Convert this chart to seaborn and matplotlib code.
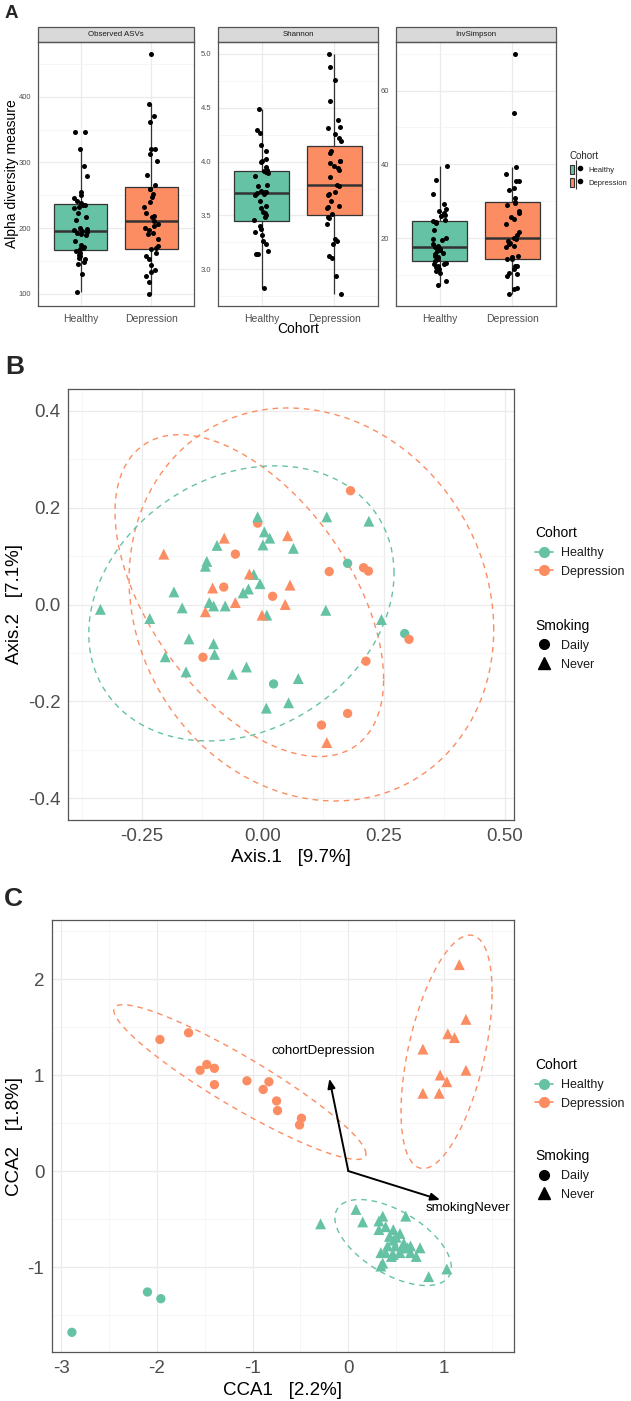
import numpy as np
import pandas as pd
import matplotlib
matplotlib.use("Agg")
import matplotlib.pyplot as plt
import seaborn as sns
from matplotlib.lines import Line2D
from matplotlib.patches import Patch, Rectangle
from matplotlib.legend_handler import HandlerTuple
from matplotlib.ticker import MultipleLocator, FixedLocator, FormatStrFormatter

W, H = 631, 1401
COHORTS = ["Healthy", "Depression"]
PALETTE = {"Healthy": "#66C2A5", "Depression": "#FC8D62"}

# ---- panel A: alpha diversity per sample ----
METRICS = ["Observed ASVs", "Shannon", "InvSimpson"]

obs_healthy = [347, 347, 321, 294, 280, 255, 250, 246, 241, 238, 236, 235, 233, 231,
               223, 217, 213, 200, 199, 197, 196, 195, 193, 191, 190, 180, 174, 172,
               170, 168, 166, 163, 160, 158, 155, 153, 148, 146, 131, 103]
obs_depression = [465, 389, 370, 362, 321, 320, 313, 303, 281, 266, 260, 259, 252, 247,
                  240, 232, 223, 219, 217, 211, 207, 203, 200, 198, 193, 191, 183, 173,
                  170, 168, 163, 158, 153, 144, 137, 133, 128, 118, 100]
shannon_healthy = [4.49, 4.29, 4.27, 4.15, 4.10, 4.02, 4.01, 4.00, 3.95, 3.92, 3.91, 3.90,
                   3.89, 3.87, 3.78, 3.77, 3.73, 3.72, 3.72, 3.71, 3.70, 3.69, 3.63, 3.59,
                   3.57, 3.53, 3.52, 3.50, 3.49, 3.46, 3.40, 3.37, 3.35, 3.32, 3.26, 3.23,
                   3.17, 3.14, 3.14, 2.83]
shannon_depression = [5.00, 4.88, 4.76, 4.56, 4.39, 4.32, 4.31, 4.26, 4.22, 4.19, 4.10,
                      4.08, 4.01, 4.01, 3.99, 3.96, 3.94, 3.92, 3.86, 3.78, 3.77, 3.72,
                      3.70, 3.69, 3.63, 3.59, 3.58, 3.57, 3.51, 3.49, 3.48, 3.42, 3.28,
                      3.26, 3.23, 3.12, 3.10, 2.94, 2.77]
invsimpson_healthy = [39.6, 35.8, 32.0, 29.3, 28.0, 27.3, 26.9, 26.3, 25.9, 24.9, 24.6,
                      24.4, 24.0, 22.2, 20.0, 19.7, 19.4, 18.5, 17.9, 17.7, 17.5, 17.0,
                      16.9, 16.6, 16.1, 15.7, 15.2, 14.8, 14.3, 13.9, 13.4, 13.1, 13.0,
                      12.5, 12.1, 11.8, 11.2, 10.7, 8.5, 7.3]
invsimpson_depression = [69.9, 53.9, 39.2, 37.3, 35.6, 35.5, 33.6, 33.0, 31.0, 29.8, 29.6,
                         29.0, 27.3, 26.9, 25.8, 25.1, 23.8, 21.8, 20.8, 20.0, 19.8, 19.3,
                         18.8, 18.4, 17.8, 17.5, 15.2, 15.0, 14.5, 14.3, 12.6, 12.5, 11.8,
                         10.6, 10.3, 9.8, 6.5, 6.2, 4.9]

# ---- panel B: PCoA coordinates, split by cohort / smoking ----
pcoa_hn_x = [-0.011, 0.003, 0.014, 0.000, 0.063, -0.095, -0.116, -0.119, -0.019, -0.006,
             -0.030, -0.041, -0.184, -0.111, -0.102, -0.078, -0.167, -0.336, 0.008, -0.234,
             0.130, 0.245, -0.153, -0.102, -0.100, -0.202, -0.159, -0.063, -0.034, 0.073,
             0.007, 0.053, 0.132, 0.219]
pcoa_hn_y = [0.181, 0.150, 0.137, 0.123, 0.116, 0.122, 0.089, 0.079, 0.062, 0.043,
             0.032, 0.024, 0.026, 0.004, -0.003, -0.003, -0.007, -0.010, -0.022, -0.029,
             -0.012, -0.031, -0.071, -0.081, -0.103, -0.108, -0.139, -0.144, -0.129, -0.153,
             -0.214, -0.203, 0.181, 0.172]
pcoa_hd_x = [0.175, 0.293, 0.022]
pcoa_hd_y = [0.085, -0.060, -0.164]
pcoa_dn_x = [0.051, -0.080, -0.205, -0.028, 0.056, -0.104, -0.057, 0.046, -0.119, -0.002, 0.132]
pcoa_dn_y = [0.142, 0.137, 0.104, 0.063, 0.040, 0.034, 0.004, 0.000, -0.015, -0.022, -0.285]
pcoa_dd_x = [-0.011, -0.057, -0.081, 0.020, 0.302, -0.124, 0.213, 0.175, 0.121, 0.181,
             0.137, 0.208, 0.218]
pcoa_dd_y = [0.168, 0.104, 0.036, 0.017, -0.072, -0.109, -0.117, -0.225, -0.249, 0.235,
             0.068, 0.076, 0.069]

# ---- panel C: CCA site scores ----
cca_hn_x = [-0.29, 0.08, 0.15, 0.32, 0.36, 0.32, 0.39, 0.47, 0.43, 0.54, 0.60, 0.47, 0.58,
            0.62, 0.65, 0.75, 0.71, 0.34, 0.39, 0.47, 0.54, 0.36, 0.34, 0.84, 1.03, 0.49,
            0.56, 0.45, 0.50, 0.41, 0.65]
cca_hn_y = [-0.55, -0.40, -0.53, -0.52, -0.47, -0.61, -0.58, -0.61, -0.68, -0.65, -0.47,
            -0.72, -0.75, -0.80, -0.78, -0.80, -0.89, -0.85, -0.85, -0.87, -0.85, -0.96,
            -0.99, -1.10, -1.02, -0.78, -0.80, -0.89, -0.69, -0.78, -0.85]
cca_hd_x = [-2.10, -1.96, -2.89]
cca_hd_y = [-1.26, -1.33, -1.68]
cca_dn_x = [1.23, 1.04, 1.11, 0.78, 1.23, 0.96, 1.03, 0.78, 0.95, 1.16]
cca_dn_y = [1.58, 1.43, 1.39, 1.27, 1.05, 1.00, 0.93, 0.81, 0.81, 2.15]
cca_dd_x = [-1.97, -1.67, -1.55, -1.48, -1.40, -1.40, -1.06, -0.89, -0.83, -0.75, -0.74,
            -0.49, -0.51]
cca_dd_y = [1.37, 1.44, 1.05, 1.11, 1.07, 0.90, 0.94, 0.85, 0.93, 0.73, 0.63, 0.55, 0.48]

cca_arrow_names = ["cohortDepression", "smokingNever"]
cca_arrow_x = [-0.198, 0.96]
cca_arrow_y = [0.962, -0.30]


def alpha_frame():
    rows = []
    for metric, h, d in zip(METRICS,
                            [obs_healthy, shannon_healthy, invsimpson_healthy],
                            [obs_depression, shannon_depression, invsimpson_depression]):
        rows += [(metric, "Healthy", v) for v in h]
        rows += [(metric, "Depression", v) for v in d]
    return pd.DataFrame(rows, columns=["metric", "Cohort", "value"])


def ord_frame(groups, xname, yname):
    parts = []
    for (cohort, smoking), (xs, ys) in groups.items():
        parts.append(pd.DataFrame({xname: xs, yname: ys, "Cohort": cohort, "Smoking": smoking}))
    return pd.concat(parts, ignore_index=True)


def norm_ellipse(xs, ys, level=0.95, segments=101):
    """stat_ellipse(type='norm'): sample covariance + F-based radius."""
    pts = np.column_stack([xs, ys])
    n = len(pts)
    center = pts.mean(axis=0)
    cov = np.cov(pts, rowvar=False)
    dfd = n - 1
    fq = dfd / 2 * ((1 - level) ** (-2 / dfd) - 1)   # qf(level, 2, dfd)
    radius = np.sqrt(2 * fq)
    chol = np.linalg.cholesky(cov).T
    t = np.linspace(0, 2 * np.pi, segments)
    circle = np.column_stack([np.cos(t), np.sin(t)])
    ell = center + radius * circle @ chol
    return ell[:, 0], ell[:, 1]


def px_axes(fig, x0, y0, x1, y1):
    return fig.add_axes([x0 / W, 1 - y1 / H, (x1 - x0) / W, (y1 - y0) / H])


def style_bw(ax, tick_size, tick_len=3):
    ax.set_facecolor("white")
    ax.set_axisbelow(True)
    ax.grid(which="major", color="#EBEBEB", lw=0.9)
    ax.grid(which="minor", color="#F3F3F3", lw=0.5)
    for sp in ax.spines.values():
        sp.set_color("#555555")
        sp.set_linewidth(0.9)
    ax.tick_params(which="major", length=tick_len, width=0.7, color="#333333",
                   labelsize=tick_size, labelcolor="#4D4D4D", pad=2)
    ax.tick_params(which="minor", length=0)


def draw_ordination(ax, df, xname, yname):
    for smoking, marker, size in [("Daily", "o", 45), ("Never", "^", 62)]:
        sub = df[df["Smoking"] == smoking]
        sns.scatterplot(data=sub, x=xname, y=yname, hue="Cohort", hue_order=COHORTS,
                        palette=PALETTE, marker=marker, s=size, linewidth=0,
                        legend=False, ax=ax, zorder=3)
    for (cohort, smoking), sub in df.groupby(["Cohort", "Smoking"]):
        if len(sub) < 5:
            continue
        ex, ey = norm_ellipse(sub[xname].values, sub[yname].values)
        ax.plot(ex, ey, color=PALETTE[cohort], lw=1.0, ls=(0, (4, 3.5)), zorder=2)


def ord_legends(fig, top_cohort, top_smoking):
    coh = [Line2D([0], [0], color=PALETTE[c], marker="o", markersize=7, lw=1.2) for c in COHORTS]
    smk = [Line2D([0], [0], color="black", marker="o", markersize=7, lw=0),
           Line2D([0], [0], color="black", marker="^", markersize=8, lw=0)]
    common = dict(loc="upper left", frameon=False, fontsize=9, title_fontsize=10,
                  alignment="left", handlelength=1.45, handletextpad=0.65,
                  labelspacing=0.55, borderpad=0, borderaxespad=0)
    l1 = fig.legend(coh, COHORTS, title="Cohort",
                    bbox_to_anchor=(535 / W, 1 - top_cohort / H), **common)
    l2 = fig.legend(smk, ["Daily", "Never"], title="Smoking",
                    bbox_to_anchor=(535 / W, 1 - top_smoking / H), **common)
    for leg in (l1, l2):
        leg.get_title().set_color("black")
        for t in leg.get_texts():
            t.set_color("#1A1A1A")


def main():
    sns.set_theme(style="white")
    plt.rcParams["font.family"] = ["Liberation Sans", "DejaVu Sans"]
    plt.rcParams["axes.unicode_minus"] = False
    np.random.seed(7)

    fig = plt.figure(figsize=(W / 100, H / 100), dpi=100)

    # ---------------- A ----------------
    alpha = alpha_frame()
    boxes = [(38, 194), (218, 378), (396, 556)]
    majors = [100, 0.5, 20]
    minors = [50, 0.25, 10]
    fmts = ["%d", "%.1f", "%d"]
    axes_a = []
    for (x0, x1), metric, mj, mn, fmt in zip(boxes, METRICS, majors, minors, fmts):
        ax = px_axes(fig, x0, 42, x1, 306)
        sub = alpha[alpha["metric"] == metric]
        sns.boxplot(data=sub, x="Cohort", y="value", hue="Cohort", order=COHORTS,
                    hue_order=COHORTS, palette=PALETTE, saturation=1, width=0.76,
                    dodge=False, linecolor="#333333", linewidth=0.9, showfliers=False,
                    showcaps=False, medianprops={"linewidth": 1.8}, legend=False, ax=ax)
        sns.stripplot(data=sub, x="Cohort", y="value", order=COHORTS, color="black",
                      size=3.6, jitter=0.1, linewidth=0, ax=ax, zorder=4)
        lo, hi = sub["value"].min(), sub["value"].max()
        pad = (hi - lo) * 0.05
        ax.set_ylim(lo - pad, hi + pad)
        ax.set_xlim(-0.6, 1.6)
        ax.yaxis.set_major_locator(MultipleLocator(mj))
        ax.yaxis.set_minor_locator(MultipleLocator(mn))
        ax.yaxis.set_major_formatter(FormatStrFormatter(fmt))
        style_bw(ax, 5.5)
        ax.tick_params(axis="x", labelsize=7.5, labelcolor="#4D4D4D", pad=3)
        ax.set_xlabel("")
        ax.set_ylabel("")
        strip = Rectangle((0, 1), 1, 15 / 264, transform=ax.transAxes, clip_on=False,
                          facecolor="#D9D9D9", edgecolor="#555555", lw=0.9)
        ax.add_patch(strip)
        ax.text(0.5, 1 + 7.5 / 264, metric, transform=ax.transAxes, ha="center",
                va="center", fontsize=5.7, color="#1A1A1A")
        axes_a.append(ax)

    axes_a[0].set_ylabel("Alpha diversity measure", fontsize=10, color="black")
    axes_a[0].yaxis.set_label_coords(-0.167, 0.5)
    axes_a[0].yaxis.label.set_verticalalignment("center")
    axes_a[1].set_xlabel("Cohort", fontsize=10, color="black")
    axes_a[1].xaxis.set_label_coords(0.5, -0.086)
    axes_a[1].xaxis.label.set_verticalalignment("center")

    box_handles = [(Patch(facecolor=PALETTE[c], edgecolor="#333333", lw=0.8),
                    Line2D([], [], color="#333333", marker="|", markersize=11, lw=0,
                           markeredgewidth=0.8),
                    Line2D([], [], color="black", marker="o", markersize=3, lw=0))
                   for c in COHORTS]
    fig.legend(box_handles, COHORTS, title="Cohort", loc="upper left",
               bbox_to_anchor=(570 / W, 1 - 151 / H), frameon=False,
               fontsize=5.5, title_fontsize=7, alignment="left",
               handler_map={tuple: HandlerTuple(ndivide=None)},
               handlelength=1.6, handleheight=1.45, handletextpad=0.8,
               labelspacing=0.5, borderpad=0, borderaxespad=0)

    # ---------------- B ----------------
    pcoa = ord_frame({("Healthy", "Never"): (pcoa_hn_x, pcoa_hn_y),
                      ("Healthy", "Daily"): (pcoa_hd_x, pcoa_hd_y),
                      ("Depression", "Never"): (pcoa_dn_x, pcoa_dn_y),
                      ("Depression", "Daily"): (pcoa_dd_x, pcoa_dd_y)},
                     "Axis.1", "Axis.2")
    ax_b = px_axes(fig, 68, 389, 514, 820)
    draw_ordination(ax_b, pcoa, "Axis.1", "Axis.2")
    ax_b.set_xlim(-0.403, 0.519)
    ax_b.set_ylim(-0.445, 0.445)
    ax_b.xaxis.set_major_locator(FixedLocator([-0.25, 0, 0.25, 0.5]))
    ax_b.xaxis.set_minor_locator(FixedLocator([-0.375, -0.125, 0.125, 0.375]))
    ax_b.xaxis.set_major_formatter(FormatStrFormatter("%.2f"))
    ax_b.yaxis.set_major_locator(FixedLocator([-0.4, -0.2, 0, 0.2, 0.4]))
    ax_b.yaxis.set_minor_locator(FixedLocator([-0.3, -0.1, 0.1, 0.3]))
    ax_b.yaxis.set_major_formatter(FormatStrFormatter("%.1f"))
    style_bw(ax_b, 13.5, tick_len=3.5)
    ax_b.set_xlabel("Axis.1   [9.7%]", fontsize=13.5, color="black")
    ax_b.xaxis.set_label_coords(0.5, -0.086)
    ax_b.xaxis.label.set_verticalalignment("center")
    ax_b.set_ylabel("Axis.2   [7.1%]", fontsize=13.5, color="black")
    ax_b.yaxis.set_label_coords(-0.119, 0.5)
    ax_b.yaxis.label.set_verticalalignment("center")
    ord_legends(fig, 526, 619)

    # ---------------- C ----------------
    cca = ord_frame({("Healthy", "Never"): (cca_hn_x, cca_hn_y),
                     ("Healthy", "Daily"): (cca_hd_x, cca_hd_y),
                     ("Depression", "Never"): (cca_dn_x, cca_dn_y),
                     ("Depression", "Daily"): (cca_dd_x, cca_dd_y)},
                    "CCA1", "CCA2")
    ax_c = px_axes(fig, 52, 920, 513.6, 1352)
    draw_ordination(ax_c, cca, "CCA1", "CCA2")
    for name, ax_x, ax_y in zip(cca_arrow_names, cca_arrow_x, cca_arrow_y):
        ax_c.annotate("", xy=(ax_x, ax_y), xytext=(0, 0),
                      arrowprops=dict(arrowstyle="-|>,head_length=0.55,head_width=0.22",
                                      color="black", lw=1.4, shrinkA=0, shrinkB=0,
                                      mutation_scale=10), zorder=5)
        ax_c.text(ax_x * 1.3, ax_y * 1.3, name, ha="center", va="center",
                  fontsize=9.5, color="black", zorder=5)
    ax_c.set_xlim(-3.098, 1.728)
    ax_c.set_ylim(-1.885, 2.615)
    ax_c.xaxis.set_major_locator(FixedLocator([-3, -2, -1, 0, 1]))
    ax_c.xaxis.set_minor_locator(FixedLocator([-2.5, -1.5, -0.5, 0.5, 1.5]))
    ax_c.xaxis.set_major_formatter(FormatStrFormatter("%d"))
    ax_c.yaxis.set_major_locator(FixedLocator([-1, 0, 1, 2]))
    ax_c.yaxis.set_minor_locator(FixedLocator([-1.5, -0.5, 0.5, 1.5, 2.5]))
    ax_c.yaxis.set_major_formatter(FormatStrFormatter("%d"))
    style_bw(ax_c, 13.5, tick_len=3.5)
    ax_c.set_xlabel("CCA1   [2.2%]", fontsize=13.5, color="black")
    ax_c.xaxis.set_label_coords(0.5, -0.088)
    ax_c.xaxis.label.set_verticalalignment("center")
    ax_c.set_ylabel("CCA2   [1.8%]", fontsize=13.5, color="black")
    ax_c.yaxis.set_label_coords(-0.082, 0.5)
    ax_c.yaxis.label.set_verticalalignment("center")
    ord_legends(fig, 1058, 1149)

    # panel tags
    fig.text(11 / W, 1 - 14 / H, "A", fontsize=13.5, fontweight="bold", ha="center", va="center")
    fig.text(15 / W, 1 - 367 / H, "B", fontsize=19, fontweight="bold", ha="center", va="center")
    fig.text(13 / W, 1 - 899 / H, "C", fontsize=19, fontweight="bold", ha="center", va="center")

    fig.savefig("out.png", dpi=100, facecolor="white")


if __name__ == "__main__":
    main()
